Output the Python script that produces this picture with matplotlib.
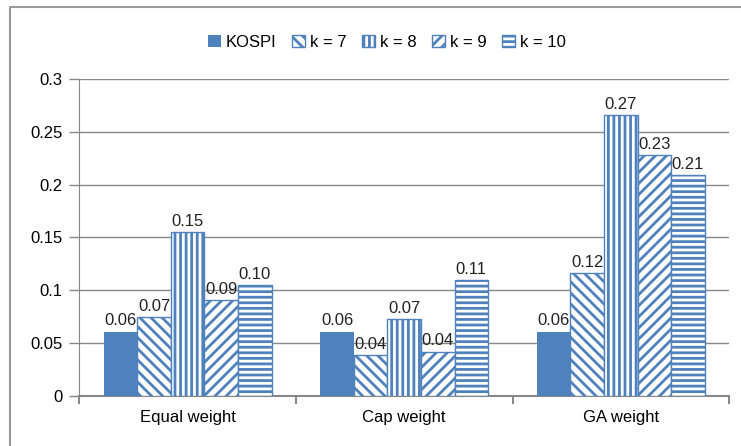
import matplotlib.pyplot as plt
import numpy as np

categories = ["Equal weight", "Cap weight", "GA weight"]
series_names = ["KOSPI", "k = 7", "k = 8", "k = 9", "k = 10"]
kospi = [0.061, 0.061, 0.061]
k7 = [0.075, 0.039, 0.116]
k8 = [0.155, 0.073, 0.266]
k9 = [0.091, 0.042, 0.228]
k10 = [0.105, 0.110, 0.209]
value_labels = [
    ["0.06", "0.06", "0.06"],
    ["0.07", "0.04", "0.12"],
    ["0.15", "0.07", "0.27"],
    ["0.09", "0.04", "0.23"],
    ["0.10", "0.11", "0.21"],
]

BLUE = "#4F81BD"
GRID = "#888888"
plt.rcParams['font.family'] = ['Liberation Sans', 'DejaVu Sans']
plt.rcParams['hatch.linewidth'] = 2.0

fig = plt.figure(figsize=(7.41, 4.46), dpi=100)
ax = fig.add_axes([0.107, 0.112, 0.877, 0.711])

x = np.arange(len(categories))
width = 0.155
hatches = [None, "\\\\\\", "|||", "///", "---"]
all_series = [kospi, k7, k8, k9, k10]

for i, (vals, name, h) in enumerate(zip(all_series, series_names, hatches)):
    pos = x + (i - 2) * width
    if h is None:
        bars = ax.bar(pos, vals, width, color=BLUE, label=name, zorder=3)
    else:
        bars = ax.bar(pos, vals, width, facecolor="white", edgecolor=BLUE,
                      hatch=h, linewidth=1.0, label=name, zorder=3)
    for b, lab in zip(bars, value_labels[i]):
        ax.text(b.get_x() + b.get_width() / 2, b.get_height() + 0.003, lab,
                ha="center", va="bottom", fontsize=12, color="#222222", zorder=4)

ax.set_ylim(0, 0.3)
ax.set_xlim(-0.5, 2.5)
ax.set_yticks(np.arange(0, 0.31, 0.05))
ax.set_yticklabels(["0", "0.05", "0.1", "0.15", "0.2", "0.25", "0.3"])
ax.set_xticks(x)
ax.set_xticklabels(categories)
ax.set_xticks([-0.5, 0.5, 1.5, 2.5], minor=True)
ax.tick_params(axis="x", which="major", length=0, pad=10, labelsize=12)
ax.tick_params(axis="x", which="minor", length=6, color=GRID, width=1.5)
ax.tick_params(axis="y", length=7, color=GRID, width=1.0, pad=5, labelsize=12)
ax.grid(axis="y", color=GRID, linewidth=1.0, zorder=0)
for s in ["top", "right"]:
    ax.spines[s].set_visible(False)
ax.spines["left"].set_color(GRID)
ax.spines["bottom"].set_color(GRID)
ax.spines["bottom"].set_linewidth(1.5)

fig.legend(loc="upper center", bbox_to_anchor=(0.522, 0.955), ncol=5, frameon=False,
           fontsize=12, handlelength=0.75, handleheight=0.75, handletextpad=0.3,
           columnspacing=0.95)

# outer chart frame (left and top edges only are visible)
fig.add_artist(plt.Line2D([0.0135, 0.0135, 1.0], [0.0, 0.985, 0.985],
                          transform=fig.transFigure, color="#999999", linewidth=1.5))

fig.savefig("out.png", dpi=100)
